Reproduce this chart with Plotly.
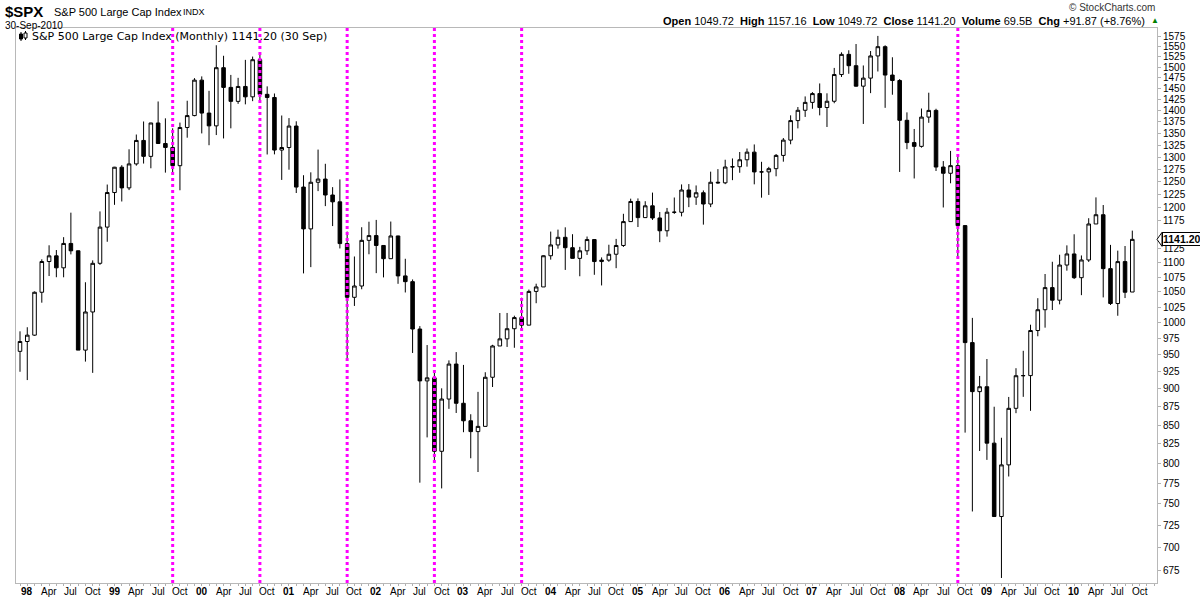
import math
import plotly.graph_objects as go

# ---------------- data (monthly S&P 500, Dec 1997 - Sep 2010) ----------------
years = list(range(1998, 2011))
months = ["1997-12"] + [f"{y}-{m:02d}" for y in years for m in range(1, 13) if not (y == 2010 and m > 9)]
axis_extra_months = ["2010-10", "2010-11", "2010-12"]  # empty slots right of the last candle

opens = [
    955.40,
    970.43, 980.28, 1049.34, 1101.75, 1111.75, 1090.82, 1133.84, 1120.67, 957.28, 1017.01, 1098.67, 1163.63,
    1229.23, 1279.64, 1238.33, 1286.37, 1335.18, 1301.84, 1372.71, 1328.72, 1320.41, 1282.71, 1362.93, 1388.91,
    1469.25, 1394.46, 1366.42, 1498.58, 1452.43, 1420.60, 1454.60, 1430.83, 1517.68, 1436.51, 1429.40, 1314.95,
    1320.28, 1366.01, 1239.94, 1160.33, 1249.46, 1255.82, 1224.42, 1211.23, 1133.58, 1040.94, 1059.78, 1139.45,
    1148.08, 1130.20, 1106.73, 1147.39, 1076.92, 1067.14, 989.82, 911.62, 916.07, 815.28, 885.76, 936.31,
    879.82, 855.70, 841.15, 848.18, 916.92, 963.59, 974.50, 990.31, 1008.01, 995.97, 1050.71, 1058.20,
    1111.92, 1131.13, 1144.94, 1126.21, 1107.30, 1120.68, 1140.84, 1101.72, 1104.24, 1114.58, 1130.20, 1173.82,
    1211.92, 1181.27, 1203.60, 1180.59, 1156.85, 1191.50, 1191.33, 1234.18, 1220.33, 1228.81, 1207.01, 1249.48,
    1248.29, 1280.08, 1280.66, 1294.83, 1310.61, 1270.09, 1270.20, 1276.66, 1303.82, 1335.85, 1377.94, 1400.63,
    1418.30, 1438.24, 1406.82, 1420.86, 1482.37, 1530.62, 1503.35, 1455.27, 1473.99, 1526.75, 1549.38, 1481.14,
    1468.36, 1378.55, 1330.63, 1322.70, 1385.59, 1400.38, 1280.00, 1267.38, 1282.83, 1166.36, 968.75, 896.24,
    903.25, 825.88, 735.09, 797.87, 872.81, 919.14, 919.32, 987.48, 1020.62, 1057.08, 1036.19, 1095.63,
    1115.10, 1073.87, 1104.49, 1169.43, 1186.69, 1089.41, 1030.71, 1101.60, 1049.72,
]
highs = [
    986.25,
    992.65, 1050.66, 1105.65, 1130.52, 1122.06, 1145.20, 1190.58, 1121.20, 1066.11, 1103.78, 1192.97, 1244.93,
    1280.36, 1283.75, 1316.55, 1347.76, 1375.98, 1372.93, 1420.33, 1382.84, 1361.18, 1373.53, 1422.00, 1473.91,
    1478.00, 1444.55, 1552.87, 1527.19, 1481.51, 1474.63, 1517.32, 1525.21, 1530.09, 1454.82, 1438.46, 1389.06,
    1383.37, 1376.38, 1263.47, 1269.30, 1315.93, 1286.62, 1239.78, 1255.09, 1155.40, 1110.61, 1163.38, 1173.62,
    1176.97, 1130.20, 1173.94, 1147.84, 1106.59, 1070.89, 994.46, 965.00, 924.02, 900.96, 941.82, 954.28,
    935.05, 864.64, 895.90, 924.24, 965.38, 1015.33, 1015.41, 1011.01, 1040.29, 1053.79, 1063.65, 1112.56,
    1155.38, 1158.98, 1163.23, 1150.57, 1127.74, 1146.34, 1140.84, 1108.96, 1131.54, 1142.05, 1188.46, 1217.33,
    1217.80, 1212.44, 1229.11, 1191.88, 1199.56, 1219.59, 1245.15, 1245.86, 1243.13, 1233.34, 1270.64, 1275.80,
    1294.90, 1297.57, 1310.88, 1318.16, 1326.70, 1290.68, 1280.42, 1306.74, 1340.28, 1389.45, 1407.89, 1431.81,
    1441.61, 1461.57, 1438.89, 1498.02, 1535.56, 1540.56, 1555.90, 1503.89, 1538.74, 1576.09, 1552.76, 1523.57,
    1471.77, 1396.02, 1359.68, 1404.57, 1440.24, 1404.05, 1292.17, 1313.15, 1303.04, 1167.03, 1007.51, 918.85,
    943.85, 875.01, 832.98, 888.70, 930.17, 956.23, 996.68, 1039.47, 1080.15, 1101.36, 1113.69, 1130.38,
    1150.45, 1112.42, 1180.16, 1219.80, 1205.13, 1131.23, 1120.95, 1129.24, 1157.16,
]
lows = [
    924.92,
    912.83, 979.26, 1032.10, 1076.70, 1074.67, 1074.55, 1114.30, 957.28, 939.98, 923.32, 1096.00, 1136.89,
    1205.46, 1211.90, 1234.03, 1282.80, 1287.08, 1277.47, 1328.72, 1268.68, 1264.06, 1233.70, 1341.01, 1387.38,
    1350.14, 1325.07, 1346.62, 1339.40, 1361.09, 1415.00, 1413.89, 1421.06, 1419.44, 1305.79, 1306.00, 1254.07,
    1274.62, 1228.33, 1081.19, 1091.99, 1232.00, 1203.03, 1165.54, 1124.87, 944.75, 1026.76, 1054.31, 1114.51,
    1081.66, 1074.36, 1106.73, 1063.46, 1048.96, 952.92, 775.68, 833.44, 800.20, 768.63, 872.05, 866.37,
    840.34, 806.29, 788.90, 847.85, 902.83, 963.59, 962.10, 960.84, 990.36, 995.97, 1031.20, 1058.20,
    1105.08, 1124.44, 1087.16, 1107.23, 1076.32, 1113.32, 1078.78, 1060.72, 1101.29, 1090.19, 1127.60, 1173.76,
    1163.75, 1180.95, 1176.92, 1136.15, 1146.18, 1188.30, 1183.55, 1201.07, 1205.35, 1168.20, 1201.07, 1246.59,
    1245.74, 1253.61, 1268.42, 1280.74, 1245.34, 1219.29, 1224.54, 1261.30, 1290.93, 1327.10, 1360.98, 1385.93,
    1403.97, 1389.42, 1363.98, 1416.37, 1476.70, 1484.18, 1454.25, 1370.60, 1439.29, 1489.56, 1406.10, 1435.65,
    1270.05, 1316.75, 1256.98, 1320.00, 1373.07, 1272.00, 1200.44, 1247.45, 1106.42, 839.80, 741.02, 815.69,
    804.22, 734.52, 666.79, 783.32, 866.10, 888.86, 869.32, 978.51, 991.97, 1020.18, 1029.38, 1085.89,
    1071.59, 1044.50, 1101.06, 1169.43, 1040.78, 1028.33, 1010.91, 1039.70, 1049.72,
]
closes = [
    970.43,
    980.28, 1049.34, 1101.75, 1111.75, 1090.82, 1133.84, 1120.67, 957.28, 1017.01, 1098.67, 1163.63, 1229.23,
    1279.64, 1238.33, 1286.37, 1335.18, 1301.84, 1372.71, 1328.72, 1320.41, 1282.71, 1362.93, 1388.91, 1469.25,
    1394.46, 1366.42, 1498.58, 1452.43, 1420.60, 1454.60, 1430.83, 1517.68, 1436.51, 1429.40, 1314.95, 1320.28,
    1366.01, 1239.94, 1160.33, 1249.46, 1255.82, 1224.42, 1211.23, 1133.58, 1040.94, 1059.78, 1139.45, 1148.08,
    1130.20, 1106.73, 1147.39, 1076.92, 1067.14, 989.82, 911.62, 916.07, 815.28, 885.76, 936.31, 879.82,
    855.70, 841.15, 848.18, 916.92, 963.59, 974.50, 990.31, 1008.01, 995.97, 1050.71, 1058.20, 1111.92,
    1131.13, 1144.94, 1126.21, 1107.30, 1120.68, 1140.84, 1101.72, 1104.24, 1114.58, 1130.20, 1173.82, 1211.92,
    1181.27, 1203.60, 1180.59, 1156.85, 1191.50, 1191.33, 1234.18, 1220.33, 1228.81, 1207.01, 1249.48, 1248.29,
    1280.08, 1280.66, 1294.83, 1310.61, 1270.09, 1270.20, 1276.66, 1303.82, 1335.85, 1377.94, 1400.63, 1418.30,
    1438.24, 1406.82, 1420.86, 1482.37, 1530.62, 1503.35, 1455.27, 1473.99, 1526.75, 1549.38, 1481.14, 1468.36,
    1378.55, 1330.63, 1322.70, 1385.59, 1400.38, 1280.00, 1267.38, 1282.83, 1166.36, 968.75, 896.24, 903.25,
    825.88, 735.09, 797.87, 872.81, 919.14, 919.32, 987.48, 1020.62, 1057.08, 1036.19, 1095.63, 1115.10,
    1073.87, 1104.49, 1169.43, 1186.69, 1089.41, 1030.71, 1101.60, 1049.33, 1141.20,
]
marked_months = ["1999-09", "2000-09", "2001-09", "2002-09", "2003-09", "2008-09"]
y_ticks = [v for v in range(675, 1576, 25) if v != 1150]
volume_text = "69.5B"
month_abbr = {4: "Apr", 7: "Jul", 10: "Oct"}

# ---------------- geometry ----------------
W, H = 1200, 600
L, R, T, B = 16, 1157, 28, 583
PW, PH = R - L, B - T
y_lo, y_hi = 661.5, 1596.0
x_first_px, x_step_px = 20.0, 7.27


def px(xp):
    return (xp - L) / PW


def py(yp):
    return (B - yp) / PH


def price_paper(p):
    return (math.log10(p) - math.log10(y_lo)) / (math.log10(y_hi) - math.log10(y_lo))


n = len(months)
xi = list(range(n))

fig = go.Figure()
fig.add_trace(go.Candlestick(
    x=xi, open=opens, high=highs, low=lows, close=closes,
    increasing=dict(fillcolor="white", line=dict(color="black", width=1)),
    decreasing=dict(fillcolor="black", line=dict(color="black", width=1)),
    whiskerwidth=0, hoverinfo="skip", showlegend=False,
))

# x ticks (one per month, labels on Jan / Apr / Jul / Oct)
tickvals, ticktext = [], []
for i, m in enumerate(months + axis_extra_months):
    yy, mm = int(m[:4]), int(m[5:])
    tickvals.append(i)
    if mm == 1:
        ticktext.append(f"<b>{yy % 100:02d}</b>")
    else:
        ticktext.append(month_abbr.get(mm, ""))

x_lo = (L - x_first_px) / x_step_px
x_hi = (R - x_first_px) / x_step_px

shapes = []
for m in marked_months:
    i = months.index(m)
    shapes.append(dict(type="line", xref="x", yref="paper", x0=i, x1=i, y0=0, y1=1,
                       line=dict(color="#FF00FF", width=3, dash="dot"), layer="above"))

# last price box arrow
last = closes[-1]
yp_last = price_paper(last)
shapes.append(dict(type="path", xref="paper", yref="paper", xsizemode="pixel", ysizemode="pixel",
                   xanchor=1.0, yanchor=yp_last,
                   path="M 5,7 L 0,0 L 5,-7 Z",
                   fillcolor="white", line=dict(color="black", width=1), layer="above"))

# legend icon (tiny candles)
shapes += [
    dict(type="line", xref="paper", yref="paper", x0=px(21), x1=px(21), y0=py(32), y1=py(41),
         line=dict(color="black", width=1)),
    dict(type="rect", xref="paper", yref="paper", x0=px(19.5), x1=px(22.5), y0=py(34), y1=py(39),
         fillcolor="black", line=dict(color="black", width=1)),
    dict(type="line", xref="paper", yref="paper", x0=px(25.5), x1=px(25.5), y0=py(31), y1=py(40),
         line=dict(color="black", width=1)),
    dict(type="rect", xref="paper", yref="paper", x0=px(24), x1=px(27), y0=py(33), y1=py(38),
         fillcolor="white", line=dict(color="black", width=1)),
]

FONT = "Liberation Sans, Arial, sans-serif"
chg = closes[-1] - closes[-2]
pct = chg / closes[-2] * 100

annotations = [
    dict(text="<b>$SPX</b>", x=px(3), y=py(11), font=dict(size=15, family=FONT, color="black"),
         xanchor="left", yanchor="middle"),
    dict(text="S&P 500 Large Cap Index", x=px(52), y=py(11.5), font=dict(size=11, family=FONT, color="black"),
         xanchor="left", yanchor="middle"),
    dict(text="INDX", x=px(181), y=py(12), font=dict(size=9, family=FONT, color="black"),
         xanchor="left", yanchor="middle"),
    dict(text="30-Sep-2010", x=px(3), y=py(25), font=dict(size=10, family=FONT, color="black"),
         xanchor="left", yanchor="middle"),
    dict(text="© StockCharts.com", x=px(1157), y=py(8), font=dict(size=10, family=FONT, color="#333333"),
         xanchor="right", yanchor="middle"),
    dict(text=(f"<b>Open</b> {opens[-1]:.2f}  <b>High</b> {highs[-1]:.2f}  <b>Low</b> {lows[-1]:.2f}  "
               f"<b>Close</b> {closes[-1]:.2f}  <b>Volume</b> {volume_text}  "
               f"<b>Chg</b> {chg:+.2f} ({pct:+.2f}%)"),
         x=px(1147), y=py(21), font=dict(size=11, family=FONT, color="black"),
         xanchor="right", yanchor="middle"),
    dict(text="▲", x=px(1149), y=py(21), font=dict(size=8, family=FONT, color="#008000"),
         xanchor="left", yanchor="middle"),
    dict(text=f"S&P 500 Large Cap Index (Monthly) {closes[-1]:.2f} (30 Sep)", x=px(30), y=py(36.5),
         font=dict(size=11, family="DejaVu Sans, Verdana, sans-serif", color="black"),
         xanchor="left", yanchor="middle"),
    dict(text=f"<b>{last:.2f}</b>", x=px(1162), y=yp_last, font=dict(size=10.5, family=FONT, color="black"),
         xanchor="left", yanchor="middle", bgcolor="white", bordercolor="black", borderwidth=1, borderpad=0),
]
# x-axis labels drawn as annotations so they sit exactly like the reference row
for v, t in zip(tickvals, ticktext):
    if t:
        annotations.append(dict(text=t, x=v, xref="x", y=py(591), yref="paper",
                                font=dict(size=10, family=FONT, color="black"),
                                xanchor="center", yanchor="middle", showarrow=False))
for a in annotations:
    a.setdefault("xref", "paper")
    a.setdefault("yref", "paper")
    a["showarrow"] = False

fig.update_layout(
    template="none",
    width=W, height=H,
    margin=dict(l=L, r=W - R, t=T, b=H - B, pad=0, autoexpand=False),
    paper_bgcolor="white", plot_bgcolor="white",
    shapes=shapes, annotations=annotations,
    showlegend=False,
    xaxis=dict(
        range=[x_lo, x_hi], tickmode="array", tickvals=tickvals, ticktext=["" for _ in tickvals],
        ticks="outside", ticklen=2, tickcolor="#b0b0b0", automargin=False,
        showgrid=False, zeroline=False, showline=True, linecolor="#b8b8b8", linewidth=1, mirror=True,
        rangeslider=dict(visible=False), fixedrange=True,
    ),
    yaxis=dict(
        type="log", range=[math.log10(y_lo), math.log10(y_hi)], side="right",
        tickmode="array", tickvals=y_ticks, ticktext=[str(v) for v in y_ticks],
        ticks="outside", ticklen=3, tickcolor="#b0b0b0", automargin=False,
        tickfont=dict(size=10, family=FONT, color="black"),
        showgrid=False, zeroline=False, showline=True, linecolor="#b8b8b8", linewidth=1, mirror=True,
        fixedrange=True,
    ),
    hovermode=False,
)

fig.write_html("out.html", config={"displayModeBar": False},
               post_script="document.body.style.margin='0';document.body.style.overflow='hidden';")
